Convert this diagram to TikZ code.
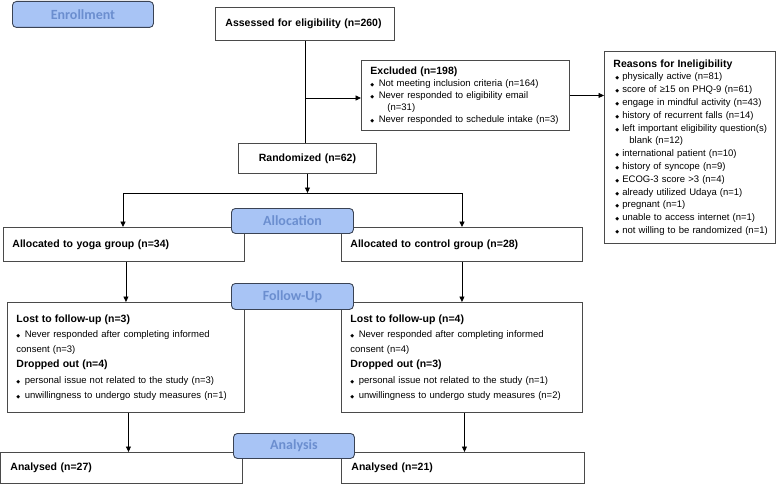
\documentclass[tikz,border=0pt]{standalone}
\usepackage{fontspec}
\setmainfont{Liberation Sans}
\newfontfamily\dvfont{DejaVu Sans}
\newfontfamily\cbfont{Carlito}
\usetikzlibrary{arrows.meta}
\definecolor{lblfill}{HTML}{A8C4F5}
\definecolor{lbldraw}{HTML}{3A4354}
\definecolor{lbltext}{HTML}{6B8ECF}
\definecolor{boxdraw}{HTML}{4A4A4A}
\newcommand{\dmd}{{\dvfont\fontsize{5}{5}\selectfont ◆}}
\newcommand{\bulA}{\dmd\hspace{4.5pt}}
\newcommand{\bulB}{\hspace*{9pt}\dmd\hspace{3pt}}
\newcommand{\ttl}[1]{{\fontsize{10.5}{10.5}\selectfont\bfseries #1}}
\begin{document}
\begin{tikzpicture}[x=1pt,y=-1pt,
  box/.style={draw=boxdraw, line width=0.9pt, anchor=north west, align=left, inner ysep=0pt},
  lbl/.style={draw=lbldraw, fill=lblfill, line width=0.9pt, rounded corners=4pt, anchor=north west,
    text=lbltext, font=\cbfont\bfseries\fontsize{14}{14}\selectfont, inner sep=0pt, align=center},
  arr/.style={draw=black, line width=0.9pt, -{Triangle[length=5.5pt,width=5pt]}},
  ln/.style={draw=black, line width=0.9pt}]
\useasboundingbox (0,0) rectangle (778,484);

% boxes
\node[box, minimum width=179pt, minimum height=33pt, text width=159pt, inner xsep=10pt,
  font=\fontsize{10.5}{12}\selectfont\bfseries] (assessed) at (215,7) {Assessed for eligibility (n=260)};

\node[box, minimum width=208pt, minimum height=70pt, text width=190pt, inner xsep=9pt,
  font=\fontsize{9.5}{12}\selectfont] (excluded) at (361,60)
  {\ttl{Excluded (n=198)}\\
   \bulA Not meeting inclusion criteria (n=164)\\
   \bulA Never responded to eligibility email\\
   \hspace*{17pt}(n=31)\\
   \bulA Never responded to schedule intake (n=3)};

\node[box, minimum width=171pt, minimum height=192pt, text width=167pt, inner xsep=2pt,
  font=\fontsize{9.5}{12.8}\selectfont] (reasons) at (604,51)
  {\hspace*{7pt}\ttl{Reasons for Ineligibility}\\
   \bulB physically active (n=81)\\
   \bulB score of ≥15 on PHQ-9 (n=61)\\
   \bulB engage in mindful activity (n=43)\\
   \bulB history of recurrent falls (n=14)\\
   \bulB left important eligibility question(s)\\
   \hspace*{23pt}blank (n=12)\\
   \bulB international patient (n=10)\\
   \bulB history of syncope (n=9)\\
   \bulB ECOG-3 score >3 (n=4)\\
   \bulB already utilized Udaya (n=1)\\
   \bulB pregnant (n=1)\\
   \bulB unable to access internet (n=1)\\
   \bulB not willing to be randomized (n=1)};

\node[box, minimum width=138pt, minimum height=30pt, text width=138pt, inner xsep=0pt, align=center,
  font=\fontsize{10.5}{12}\selectfont\bfseries] (randomized) at (238,143) {Randomized (n=62)};

\node[box, minimum width=241pt, minimum height=34pt, text width=223pt, inner xsep=9pt,
  font=\fontsize{10.5}{12}\selectfont\bfseries] (yoga) at (3,227) {Allocated to yoga group (n=34)};
\node[box, minimum width=241pt, minimum height=34pt, text width=223pt, inner xsep=9pt,
  font=\fontsize{10.5}{12}\selectfont\bfseries] (control) at (341,227) {Allocated to control group (n=28)};

\node[box, minimum width=237pt, minimum height=110pt, text width=219pt, inner xsep=9pt,
  font=\fontsize{9.5}{15.2}\selectfont] (fl) at (7,302)
  {\ttl{Lost to follow-up (n=3)}\\
   \bulA Never responded after completing informed\\
   consent (n=3)\\
   \ttl{Dropped out (n=4)}\\
   \bulA personal issue not related to the study (n=3)\\
   \bulA unwillingness to undergo study measures (n=1)};
\node[box, minimum width=241pt, minimum height=110pt, text width=223pt, inner xsep=9pt,
  font=\fontsize{9.5}{15.2}\selectfont] (fr) at (341,302)
  {\ttl{Lost to follow-up (n=4)}\\
   \bulA Never responded after completing informed\\
   consent (n=4)\\
   \ttl{Dropped out (n=3)}\\
   \bulA personal issue not related to the study (n=1)\\
   \bulA unwillingness to undergo study measures (n=2)};

\node[box, minimum width=242pt, minimum height=31pt, text width=222pt, inner xsep=10pt,
  font=\fontsize{10.5}{12}\selectfont\bfseries] (al) at (0,452) {Analysed (n=27)};
\node[box, minimum width=243pt, minimum height=31pt, text width=223pt, inner xsep=10pt,
  font=\fontsize{10.5}{12}\selectfont\bfseries] (ar) at (341,452) {Analysed (n=21)};

% connectors
\coordinate (bx) at (305,98);
\draw[ln] (assessed.south) -- (assessed.south |- randomized.north);
\draw[arr] (bx) -- (bx -| excluded.west);
\draw[arr] (excluded.east) -- (excluded.east -| reasons.west);
\coordinate (sl) at (123,193);
\coordinate (sr) at (462,193);
\draw[arr] (randomized.south) -- (randomized.south |- sl);
\draw[ln] (sl) -- (sr);
\draw[arr] (sl) -- (sl |- yoga.north);
\draw[arr] (sr) -- (sr |- control.north);
\draw[arr] (fl.north |- yoga.south) -- (fl.north);
\draw[arr] (control.south) -- (fr.north);
\draw[arr] ([xshift=2.5pt]fl.south) -- ([xshift=2.5pt]fl.south |- al.north);
\draw[arr] ([xshift=2.5pt]fr.south) -- ([xshift=2.5pt]fr.south |- ar.north);

% stage labels
\node[lbl, minimum width=141pt, minimum height=26pt] (enroll) at (12,1) {Enrollment};
\node[lbl, minimum width=122pt, minimum height=25pt] (alloc) at (231,208) {Allocation};
\node[lbl, minimum width=122pt, minimum height=26pt] (follow) at (231,283) {Follow-Up};
\node[lbl, minimum width=121pt, minimum height=25pt] (analysis) at (233,433) {Analysis};
\end{tikzpicture}
\end{document}
